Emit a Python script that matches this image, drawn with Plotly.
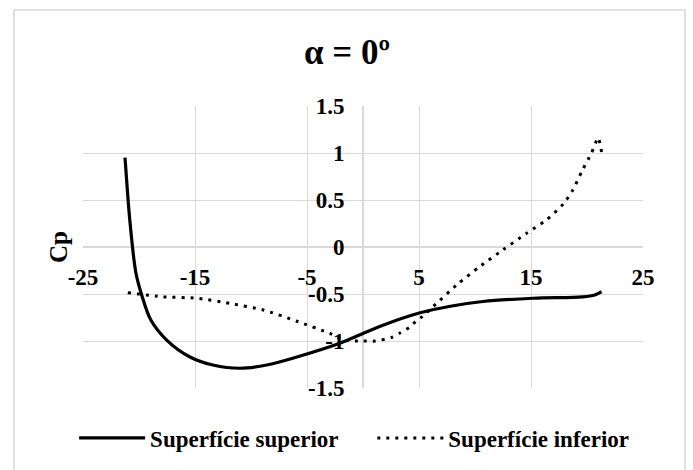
import plotly.graph_objects as go

# Pressure coefficient along the upper surface (solid line)
x_superior = [-21.25, -21.03, -20.8, -20.27, -19.76, -18.93, -17.53, -15.45, -13.4, -11.0,
              -8.6, -5.9, -2.2, 1.6, 5.1, 7.8, 10.7, 15.2, 19.6, 20.7, 21.3]
cp_superior = [0.95, 0.59, 0.26, -0.28, -0.51, -0.78, -0.99, -1.17, -1.255, -1.29,
               -1.255, -1.17, -1.03, -0.84, -0.70, -0.63, -0.58, -0.545, -0.53, -0.51, -0.475]

# Pressure coefficient along the lower surface (dotted line)
x_inferior = [-21.0, -17.9, -14.85, -11.9, -8.9, -5.9, -2.95, -1.8, 0.0, 1.1, 2.6,
              3.3, 4.2, 4.8, 5.3, 6.25, 8.4, 10.4, 12.5, 14.6, 16.4, 17.9, 18.75,
              19.6, 20.4, 21.0, 21.3]
cp_inferior = [-0.486, -0.53, -0.545, -0.6, -0.67, -0.79, -0.92, -0.99, -1.0, -1.0, -0.96,
               -0.915, -0.85, -0.78, -0.74, -0.635, -0.40, -0.21, -0.03, 0.145, 0.29, 0.46, 0.61,
               0.82, 1.0, 1.16, 1.01]

x_ticks = [-25, -15, -5, 5, 15, 25]
x_tick_text = ["-25", "-15", "-5", "5", "15", "25"]
y_ticks = [-1.5, -1.0, -0.5, 0.0, 0.5, 1.0, 1.5]
y_tick_text = ["-1.5", "-1", "-0.5", "0", "0.5", "1", "1.5"]

SERIF = "Liberation Serif"
GRID = "#d9d9d9"
ENTRY_GAP = "\u00a0" * 5  # extra room between the two legend entries

fig = go.Figure()
fig.add_trace(go.Scatter(
    x=x_superior, y=cp_superior, mode="lines", name="Superfície superior" + ENTRY_GAP,
    line=dict(color="black", width=3.2, shape="spline", smoothing=1.0),
))
fig.add_trace(go.Scatter(
    x=x_inferior, y=cp_inferior, mode="lines", name="Superfície inferior",
    line=dict(color="black", width=3, dash="3px,6px", shape="spline", smoothing=0.6),
))

fig.update_layout(
    width=693, height=470,
    margin=dict(l=83, r=50, t=106, b=82, autoexpand=False),
    paper_bgcolor="white", plot_bgcolor="white",
    font=dict(family=SERIF, color="black", size=22, weight="bold"),
    title=dict(text="α = 0º", x=0.5007, xref="container", xanchor="center",
               y=0.889, yref="container", yanchor="middle",
               font=dict(family=SERIF, size=35, weight="bold", color="black")),
    showlegend=True,
    legend=dict(orientation="h", x=0.511, xanchor="center", xref="container",
                y=1 - 438 / 470, yref="container", yanchor="middle",
                font=dict(family=SERIF, size=23, weight="bold", color="black"),
                bgcolor="rgba(0,0,0,0)", itemwidth=66),
    xaxis=dict(range=[-25, 25], tickvals=x_ticks, ticktext=x_tick_text,
               showgrid=True, gridcolor=GRID, gridwidth=1.3,
               zeroline=True, zerolinecolor=GRID, zerolinewidth=1.6,
               showline=False, anchor="free", position=0.5,
               ticks="outside", ticklen=9, tickcolor="rgba(0,0,0,0)",
               tickfont=dict(family=SERIF, size=23, weight="bold", color="black")),
    yaxis=dict(range=[-1.5, 1.5], tickvals=y_ticks, ticktext=y_tick_text,
               showgrid=True, gridcolor=GRID, gridwidth=1.3,
               zeroline=True, zerolinecolor=GRID, zerolinewidth=1.6,
               showline=False, anchor="free", position=0.5,
               ticks="outside", ticklen=14, tickcolor="rgba(0,0,0,0)",
               tickfont=dict(family=SERIF, size=23, weight="bold", color="black")),
)

# Axis title placed at the left edge of the plot, centred on Cp = 0
fig.add_annotation(text="Cp", xref="paper", yref="paper", x=(58 - 83) / 560, y=0.5,
                   textangle=-90, showarrow=False, xanchor="center", yanchor="middle",
                   font=dict(family=SERIF, size=25, weight="bold", color="black"))

# Chart frame
fig.add_shape(type="rect", xref="paper", yref="paper",
              x0=(14 - 83) / 560, x1=(685 - 83) / 560,
              y0=(388 - 480) / 282, y1=(388 - 10) / 282,
              line=dict(color=GRID, width=1.6), layer="below")

fig.write_html("out.html")
